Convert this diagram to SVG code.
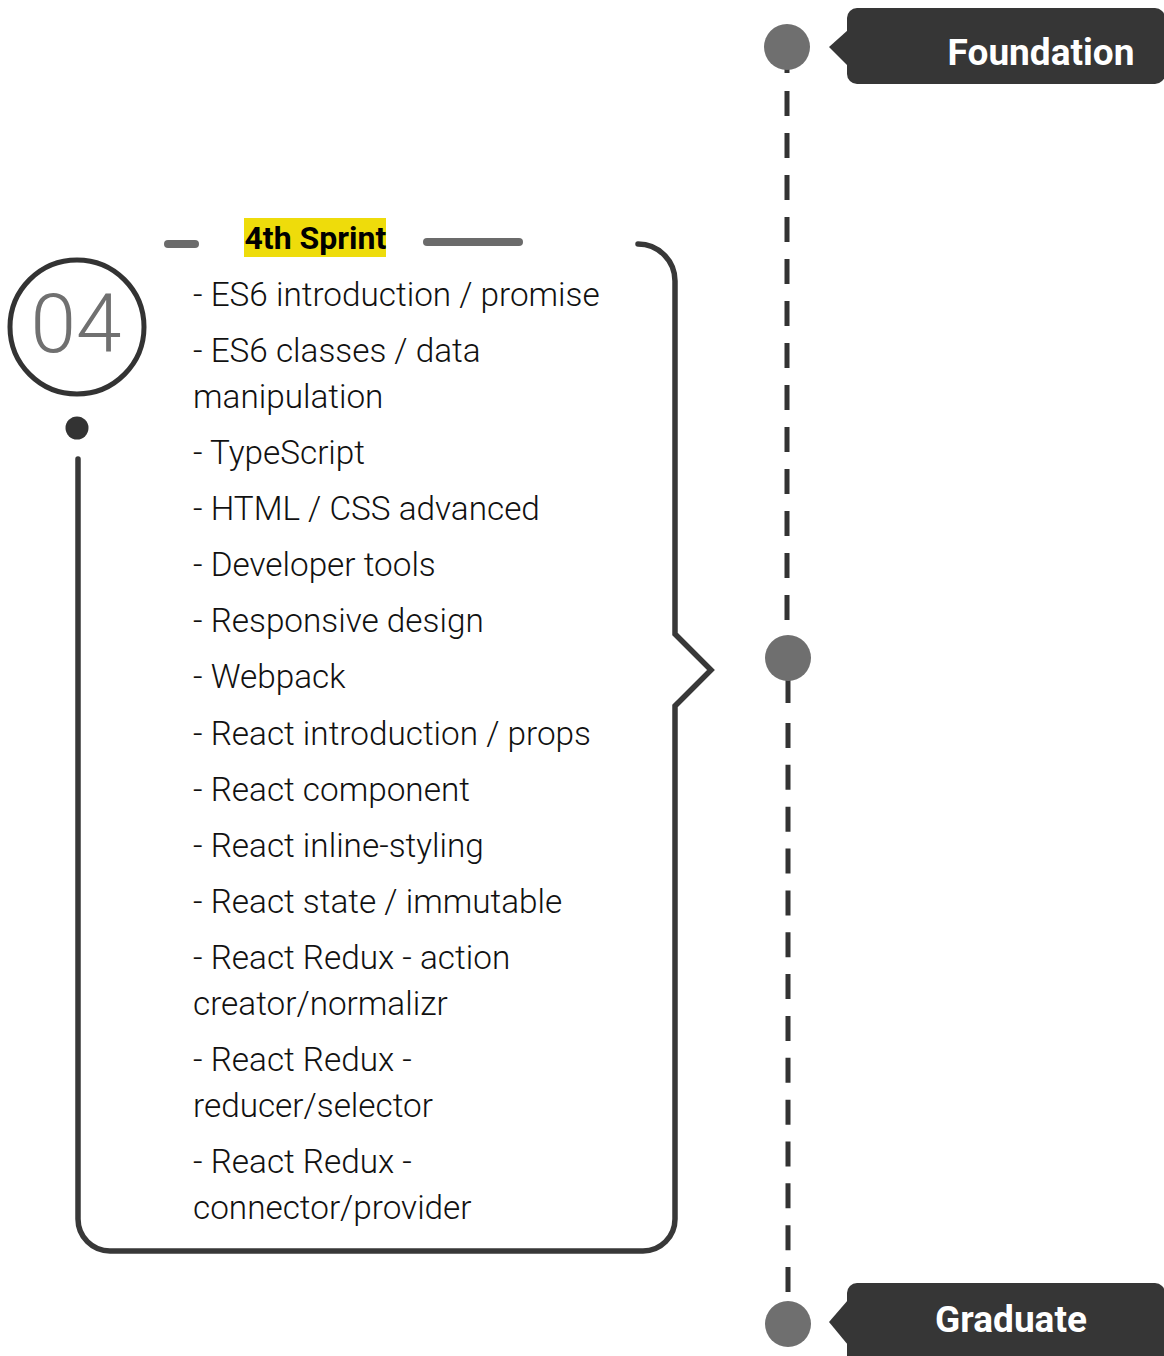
<svg xmlns="http://www.w3.org/2000/svg" width="1164" height="1356" viewBox="0 0 1164 1356">
<style>
.item{font-family:Roboto,"Liberation Sans",sans-serif;font-weight:300;font-size:33.3px;fill:#111}
.lbl{font-family:Roboto,"Liberation Sans",sans-serif;font-weight:700;font-size:37px;fill:#fff;text-anchor:middle}
.dark{fill:#363636}
.dot{fill:#6f6f6f}
.dash{stroke:#333;stroke-width:5;fill:none}
</style>
<rect width="1164" height="1356" fill="#fff"/>
<g id="connectors">
  <line class="dash" x1="787" y1="66" x2="787" y2="73"/>
  <line class="dash" x1="787" y1="91" x2="787" y2="621" stroke-dasharray="25 17"/>
  <line class="dash" x1="788" y1="678" x2="788" y2="703"/>
  <line class="dash" x1="788" y1="723" x2="788" y2="1292" stroke-dasharray="25 16.85"/>
</g>
<g id="foundation">
  <circle class="dot" cx="787" cy="47" r="23"/>
  <rect class="dark" x="847" y="8" width="318" height="76" rx="10"/>
  <polygon class="dark" points="848,30 829,47 848,66"/>
  <text class="lbl" x="1041" y="65">Foundation</text>
</g>
<g id="milestone">
  <circle class="dot" cx="788" cy="658" r="23"/>
</g>
<g id="graduate">
  <circle class="dot" cx="788" cy="1324" r="23"/>
  <rect class="dark" x="847" y="1283" width="318" height="90" rx="10"/>
  <polygon class="dark" points="848,1300 829,1322 848,1345"/>
  <text class="lbl" x="1011" y="1332">Graduate</text>
</g>
<g id="sprint4">
  <circle cx="77" cy="327" r="67" fill="none" stroke="#333" stroke-width="5"/>
  <text x="76" y="352" font-family="Roboto,'Liberation Sans',sans-serif" font-weight="300" font-size="82" fill="#707070" text-anchor="middle">04</text>
  <circle cx="77" cy="428" r="11.5" fill="#333"/>
  <path d="M78,459 V1219 A32,32 0 0 0 110,1251 H643 A32,32 0 0 0 675,1219 V706 L711,670 L675,634 V281 A37,37 0 0 0 638,244" fill="none" stroke="#383838" stroke-width="5.5" stroke-linecap="round" stroke-linejoin="miter"/>
  <line x1="168" y1="244" x2="195" y2="244" stroke="#6b6b6b" stroke-width="8" stroke-linecap="round"/>
  <line x1="427" y1="242" x2="519" y2="242" stroke="#6b6b6b" stroke-width="8" stroke-linecap="round"/>
  <rect x="244" y="218" width="142" height="39" fill="#eedc0b"/>
  <text x="244.5" y="249" font-family="Roboto,'Liberation Sans',sans-serif" font-weight="700" font-size="32" fill="#000">4th Sprint</text>
  <text class="item" x="193" y="306">- ES6 introduction / promise</text>
  <text class="item" x="193" y="362">- ES6 classes / data</text>
  <text class="item" x="193" y="408">manipulation</text>
  <text class="item" x="193" y="464">- TypeScript</text>
  <text class="item" x="193" y="520">- HTML / CSS advanced</text>
  <text class="item" x="193" y="576">- Developer tools</text>
  <text class="item" x="193" y="632">- Responsive design</text>
  <text class="item" x="193" y="688">- Webpack</text>
  <text class="item" x="193" y="745">- React introduction / props</text>
  <text class="item" x="193" y="801">- React component</text>
  <text class="item" x="193" y="857">- React inline-styling</text>
  <text class="item" x="193" y="913">- React state / immutable</text>
  <text class="item" x="193" y="969">- React Redux - action</text>
  <text class="item" x="193" y="1015">creator/normalizr</text>
  <text class="item" x="193" y="1071">- React Redux -</text>
  <text class="item" x="193" y="1117">reducer/selector</text>
  <text class="item" x="193" y="1173">- React Redux -</text>
  <text class="item" x="193" y="1219">connector/provider</text>
</g>
</svg>
